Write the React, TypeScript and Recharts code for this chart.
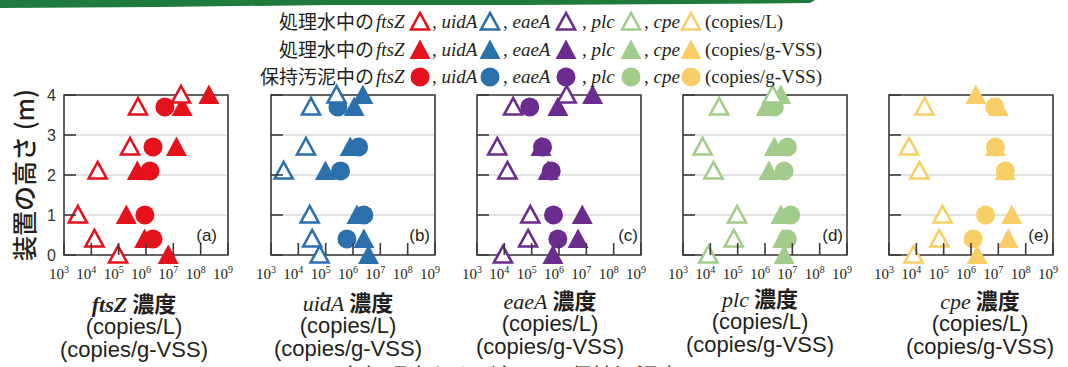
import React from 'react'
import { ScatterChart, Scatter, XAxis, YAxis, CartesianGrid, ReferenceArea } from 'recharts'

// 装置の高さ (m)
const HEIGHTS = [4.0, 3.7, 2.7, 2.1, 1.0, 0.4, 0.0]
const SLUDGE_HEIGHTS = [3.7, 2.7, 2.1, 1.0, 0.4]
const X_TICKS = [1e3, 1e4, 1e5, 1e6, 1e7, 1e8, 1e9]
const Y_TICKS = [0, 1, 2, 3, 4]

// 処理水中 (copies/L)
const FTSZ_WATER_L = [1.9e7, 5.1e5, 2.6e5, 1.7e4, 3.2e3, 1.3e4, 9.5e4]
const UIDA_WATER_L = [2.5e5, 2.9e4, 1.9e4, 2.9e3, 2.6e4, 3.2e4, 6.0e4]
const EAEA_WATER_L = [1.9e6, 2.1e4, 5.5e3, 1.3e4, 8.9e4, 7.4e4, 8.9e3]
const PLC_WATER_L = [1.9e6, 2.1e4, 5.2e3, 1.3e4, 9.5e4, 7.2e4, 8.5e3]
const CPE_WATER_L = [null, 2.0e4, 5.4e3, 1.3e4, 9.1e4, 6.9e4, 7.9e3]

// 処理水中 (copies/g-VSS)
const FTSZ_WATER_VSS = [2.0e8, 2.1e7, 1.3e7, 4.8e5, 1.9e5, 8.9e5, 6.5e6]
const UIDA_WATER_VSS = [2.3e6, 1.1e6, 7.9e5, 9.8e4, 1.4e6, 2.5e6, 3.7e6]
const EAEA_WATER_VSS = [1.7e7, 9.1e5, 2.2e5, 4.0e5, 7.1e6, 5.0e6, 6.0e5]
const PLC_WATER_VSS = [3.8e6, 1.1e6, 2.2e6, 1.4e6, 3.8e6, 4.4e6, 5.0e6]
const CPE_WATER_VSS = [1.5e6, 1.0e7, 7.8e6, 1.8e7, 3.1e7, 2.3e7, 1.7e6]

// 保持汚泥中 (copies/g-VSS)
const FTSZ_SLUDGE = [4.9e6, 1.8e6, 1.4e6, 9.1e5, 1.8e6]
const UIDA_SLUDGE = [2.8e5, 1.6e6, 3.5e5, 2.5e6, 6.0e5]
const EAEA_SLUDGE = [8.5e4, 2.5e5, 5.2e5, 6.3e5, 9.1e5]
const PLC_SLUDGE = [2.2e6, 6.6e6, 5.0e6, 8.7e6, 6.6e6]
const CPE_SLUDGE = [7.4e6, 7.8e6, 1.8e7, 3.4e6, 1.2e6]

const GENES = ['ftsZ', 'uidA', 'eaeA', 'plc', 'cpe']
const COLORS = ['#e5121b', '#2b6fad', '#6a2c8f', '#a2cc8c', '#f7cf66']

const INK = '#231f20'
const AXIS = '#3a3a3a'
const SERIF = "'Liberation Serif', 'Times New Roman', serif"
const SANS = "'Liberation Sans', Arial, sans-serif"
const CJK = "'Noto Sans CJK JP', sans-serif"

// chart coordinates of the plot box inside each ScatterChart
const PLOT_LEFT = 50
const PLOT_BOTTOM = 255
const TICK_LEN = 12

const PANELS = [
    { label: '(a)', left: 64, labelRight: 217, center: 134, dy: 0, waterL: FTSZ_WATER_L, waterVSS: FTSZ_WATER_VSS, sludge: FTSZ_SLUDGE },
    { label: '(b)', left: 271, labelRight: 430, center: 348, dy: -1, waterL: UIDA_WATER_L, waterVSS: UIDA_WATER_VSS, sludge: UIDA_SLUDGE },
    { label: '(c)', left: 477, labelRight: 638, center: 550, dy: -3, waterL: EAEA_WATER_L, waterVSS: EAEA_WATER_VSS, sludge: EAEA_SLUDGE },
    { label: '(d)', left: 683, labelRight: 843, center: 760, dy: -5, waterL: PLC_WATER_L, waterVSS: PLC_WATER_VSS, sludge: PLC_SLUDGE },
    { label: '(e)', left: 889, labelRight: 1049, center: 980, dy: -3, waterL: CPE_WATER_L, waterVSS: CPE_WATER_VSS, sludge: CPE_SLUDGE },
]

const toPoints = (heights: number[], values: (number | null)[]) =>
    heights.map((h, i) => ({ x: values[i], y: h })).filter(d => d.x != null)

const OpenTri = ({ cx, cy, color }: any) => (
    <polygon
        points={`${cx},${cy - 9} ${cx - 9},${cy + 7.5} ${cx + 9},${cy + 7.5}`}
        fill="#fff" stroke={color} strokeWidth={2.6} strokeLinejoin="miter"
    />
)

const FilledTri = ({ cx, cy, color }: any) => (
    <polygon points={`${cx},${cy - 10.5} ${cx - 10.5},${cy + 9} ${cx + 10.5},${cy + 9}`} fill={color} />
)

const Dot = ({ cx, cy, color }: any) => <circle cx={cx} cy={cy} r={9.5} fill={color} />

// 目盛は内向き
const XTick = (props: any) => {
    const { x, payload } = props
    const exp = Math.round(Math.log10(payload.value))
    return (
        <g>
            <line x1={x} x2={x} y1={PLOT_BOTTOM} y2={PLOT_BOTTOM - TICK_LEN} stroke={AXIS} strokeWidth={1.6} />
            <text x={x - 5} y={279} textAnchor="middle" fontFamily={SERIF} fontSize={15} fill={INK}>
                10<tspan dy={-6} fontSize={10}>{exp}</tspan>
            </text>
        </g>
    )
}

const YTick = (props: any) => {
    const { y, payload, showLabel } = props
    return (
        <g>
            <line x1={PLOT_LEFT} x2={PLOT_LEFT + TICK_LEN} y1={y} y2={y} stroke={AXIS} strokeWidth={1.6} />
            {showLabel && (
                <text x={42} y={y + 6} textAnchor="end" fontFamily={SANS} fontSize={16} fill="#333">
                    {payload.value}
                </text>
            )}
        </g>
    )
}

function Panel({ p, color, showY }: any) {
    const waterL = toPoints(HEIGHTS, p.waterL)
    const waterVSS = toPoints(HEIGHTS, p.waterVSS)
    const sludge = toPoints(SLUDGE_HEIGHTS, p.sludge)
    return (
        <div style={{ position: 'absolute', left: p.left - PLOT_LEFT, top: 0 }}>
            <ScatterChart width={224} height={300} margin={{ top: 95, right: 10, bottom: 15, left: 0 }}>
                <CartesianGrid vertical={false} stroke="#e2e2e2" strokeWidth={2} />
                <XAxis
                    type="number" dataKey="x" scale="log" domain={[1e3, 1e9]} ticks={X_TICKS}
                    interval={0} height={30} axisLine={false} tickLine={false} tick={<XTick />}
                />
                <YAxis
                    type="number" dataKey="y" domain={[0, 4]} ticks={Y_TICKS}
                    interval={0} width={PLOT_LEFT} axisLine={false} tickLine={false}
                    tick={<YTick showLabel={showY} />}
                />
                <ReferenceArea x1={1e3} x2={1e9} y1={0} y2={4} fill="none" stroke={AXIS} strokeWidth={1.6} ifOverflow="visible" />
                <Scatter data={waterVSS} isAnimationActive={false} shape={(s: any) => <FilledTri cx={s.cx} cy={s.cy} color={color} />} />
                <Scatter data={sludge} isAnimationActive={false} shape={(s: any) => <Dot cx={s.cx} cy={s.cy} color={color} />} />
                <Scatter data={waterL} isAnimationActive={false} shape={(s: any) => <OpenTri cx={s.cx} cy={s.cy} color={color} />} />
            </ScatterChart>
        </div>
    )
}

// 凡例の位置
const LEGEND_ROWS = [
    { prefix: '処理水中の', unit: '(copies/L)', kind: 'open', y: 22 },
    { prefix: '処理水中の', unit: '(copies/g-VSS)', kind: 'filled', y: 50 },
    { prefix: '保持汚泥中の', unit: '(copies/g-VSS)', kind: 'dot', y: 77 },
]
const LEGEND_GENE_X = [376, 432, 503, 582, 644]
const LEGEND_MARK_X = [420, 490, 566, 631, 691]

function Overlay() {
    return (
        <svg width={1068} height={367} style={{ position: 'absolute', left: 0, top: 0, pointerEvents: 'none' }}>
            <polygon points="0,0 815,0 810,3 690,4 520,5 330,5 160,7 0,8" fill="#1e7b3d" />

            {LEGEND_ROWS.map(row => (
                <g key={row.kind}>
                    <text x={374} y={row.y + 7} textAnchor="end" fontFamily={CJK} fontSize={19} fill={INK}>{row.prefix}</text>
                    {GENES.map((g, i) => (
                        <g key={g}>
                            <text x={LEGEND_GENE_X[i]} y={row.y + 6} fontFamily={SERIF} fontSize={19} fill={INK}>
                                {i > 0 ? ', ' : ''}<tspan fontStyle="italic">{g}</tspan>
                            </text>
                            {row.kind === 'open' && <OpenTri cx={LEGEND_MARK_X[i]} cy={row.y} color={COLORS[i]} />}
                            {row.kind === 'filled' && <FilledTri cx={LEGEND_MARK_X[i]} cy={row.y} color={COLORS[i]} />}
                            {row.kind === 'dot' && <Dot cx={LEGEND_MARK_X[i]} cy={row.y} color={COLORS[i]} />}
                        </g>
                    ))}
                    <text x={705} y={row.y + 6} fontFamily={SERIF} fontSize={19} fill={INK}>{row.unit}</text>
                </g>
            ))}

            <text
                x={23} y={175} transform="rotate(-90 23 175)" textAnchor="middle" dominantBaseline="central"
                fontFamily={CJK} fontSize={25} fontWeight={500} fill={INK}
            >
                装置の高さ (m)
            </text>

            {PANELS.map((p, i) => (
                <g key={p.label}>
                    <text x={p.labelRight} y={241} textAnchor="end" fontFamily={SANS} fontSize={17} fill={INK}>{p.label}</text>
                    <text x={p.center} y={312 + p.dy} textAnchor="middle" fontSize={22} fill={INK}>
                        <tspan fontFamily={SERIF} fontStyle="italic" fontWeight={i === 0 ? 700 : 400}>{GENES[i]}</tspan>
                        <tspan fontFamily={CJK} fontWeight={700}> 濃度</tspan>
                    </text>
                    <text x={p.center} y={334 + p.dy} textAnchor="middle" fontFamily={SANS} fontSize={22} fill={INK}>(copies/L)</text>
                    <text x={p.center} y={357 + p.dy} textAnchor="middle" fontFamily={SANS} fontSize={22} fill={INK}>(copies/g-VSS)</text>
                </g>
            ))}

            <text x={288} y={384} fontFamily={CJK} fontSize={22} fill={INK}>Fig.2 各処理水および各 ROX 保持汚泥中の</text>
        </svg>
    )
}

export default function App() {
    return (
        <div style={{ position: 'absolute', left: 0, top: 0, width: 1068, height: 367, background: '#fff', overflow: 'hidden' }}>
            {PANELS.map((p, i) => (
                <Panel key={p.label} p={p} color={COLORS[i]} showY={i === 0} />
            ))}
            <Overlay />
        </div>
    )
}
